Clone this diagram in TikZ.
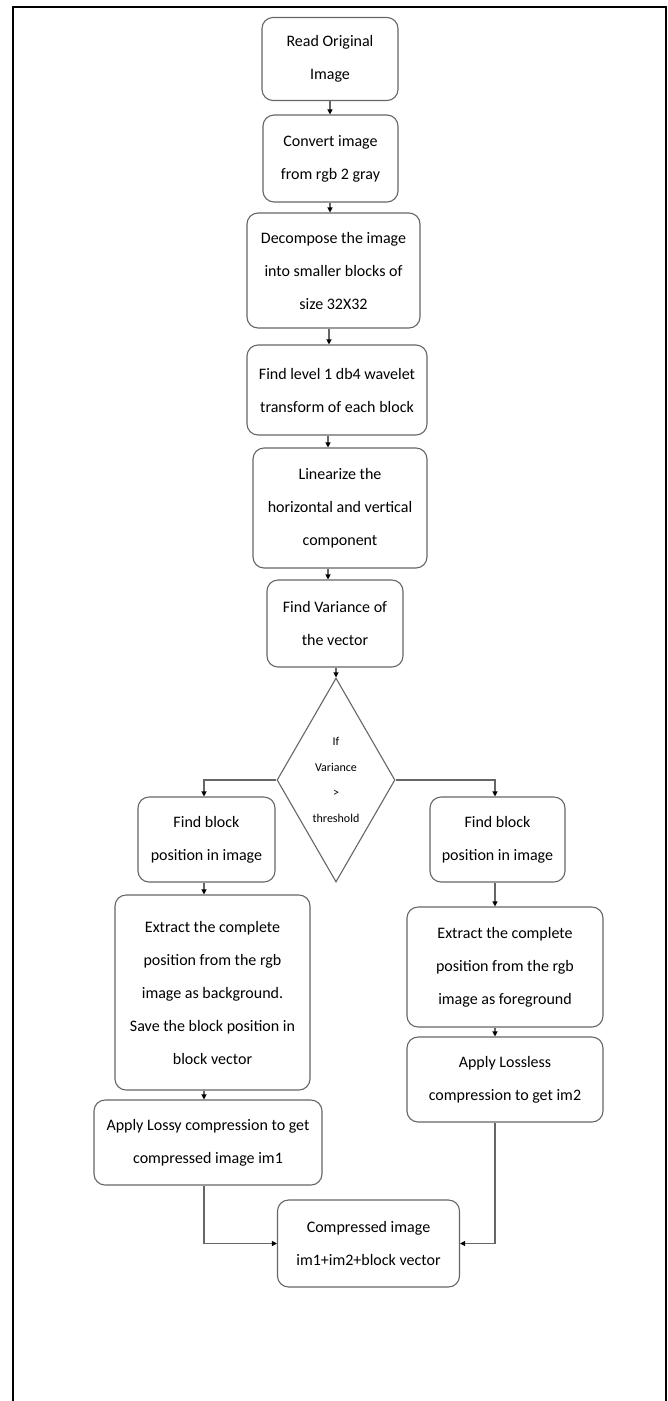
\documentclass[tikz,border=0pt]{standalone}
\usepackage{fontspec}
\setmainfont{Carlito}
\usetikzlibrary{shapes.geometric,arrows.meta,calc}
\begin{document}
\begin{tikzpicture}[x=1pt,y=-1pt,
  box/.style={draw=black!60, line width=1.1pt, rounded corners=11pt, fill=white,
    align=center, inner sep=2pt, font=\fontsize{16}{33}\selectfont, text=black},
  arr/.style={draw=black!60, line width=1.1pt, -{Triangle[length=5pt,width=5pt,fill=black,color=black]}},
  frameline/.style={draw=black, line width=2.5pt}
]
\useasboundingbox (0,0) rectangle (668,1401);
\begin{scope}
  \clip (0,0) rectangle (668,1401);
  \draw[frameline] (13,1430) -- (13,7) -- (666,7) -- (666,1430);
\end{scope}

\coordinate (axis) at (330,0);
\coordinate (laxis) at (204,0);
\coordinate (raxis) at (495,0);

\node[box, minimum width=136pt, minimum height=83pt] (read) at (330,59) {Read Original\\Image};
\node[box, minimum width=135pt, minimum height=87pt] (convert) at (330.5,158.5) {Convert image\\from rgb 2 gray};
\node[box, minimum width=173pt, minimum height=115pt] (decomp) at (333.5,270.5) {Decompose the image\\into smaller blocks of\\size 32X32};
\node[box, minimum width=180pt, minimum height=90pt] (level) at (337,390) {Find level 1 db4 wavelet\\transform of each block};
\node[box, minimum width=174pt, minimum height=120pt] (linear) at (340,508) {Linearize the\\horizontal and vertical\\component};
\node[box, minimum width=136pt, minimum height=87pt] (var) at (335,623.5) {Find Variance of\\the vector};

\node[diamond, draw=black!60, line width=1.1pt, inner sep=0pt, minimum width=118pt, minimum height=204pt] (dec) at (336,780) {};
\node[align=center, inner sep=0pt, font=\fontsize{12}{25.5}\selectfont, text=black] (dectext) at (dec.center) {If\\Variance\\>\\threshold};

\node[box, minimum width=137pt, minimum height=85pt] (fbL) at (206.5,839.5) {Find block\\position in image};
\node[box, minimum width=135pt, minimum height=85pt] (fbR) at (497.5,839.5) {Find block\\position in image};
\node[box, minimum width=195pt, minimum height=195pt] (exL) at (212.5,992.5) {Extract the complete\\position from the rgb\\image as background.\\Save the block position in\\block vector};
\node[box, minimum width=196pt, minimum height=120pt] (exR) at (505,967) {Extract the complete\\position from the rgb\\image as foreground};
\node[box, minimum width=196pt, minimum height=85pt] (lossless) at (505,1079.5) {Apply Lossless\\compression to get im2};
\node[box, minimum width=228pt, minimum height=85pt] (lossy) at (208,1142.5) {Apply Lossy compression to get\\compressed image im1};
\node[box, minimum width=182pt, minimum height=87pt] (comp) at (368.5,1243.5) {Compressed image\\im1+im2+block vector};

\draw[arr] (read.south -| axis) -- (convert.north -| axis);
\draw[arr] (convert.south -| axis) -- (decomp.north -| axis);
\draw[arr] ($(decomp.south -| axis)+(-1,0)$) -- ($(level.north -| axis)+(-1,0)$);
\draw[arr] ($(level.south -| axis)+(-2,0)$) -- ($(linear.north -| axis)+(-2,0)$);
\draw[arr] ($(linear.south -| axis)+(-2,0)$) -- ($(var.north -| axis)+(-2,0)$);
\draw[arr] (var.south -| dec.north) -- (dec.north);
\draw[arr] (dec.west) -| (fbL.north -| laxis);
\draw[arr] (dec.east) -| (fbR.north -| raxis);
\draw[arr] (fbL.south -| laxis) -- (exL.north -| laxis);
\draw[arr] (exL.south -| laxis) -- (lossy.north -| laxis);
\draw[arr] (fbR.south -| raxis) -- (exR.north -| raxis);
\draw[arr] (exR.south -| raxis) -- (lossless.north -| raxis);
\draw[arr] (lossy.south -| laxis) |- (comp.west);
\draw[arr] (lossless.south -| raxis) |- (comp.east);
\end{tikzpicture}
\end{document}
